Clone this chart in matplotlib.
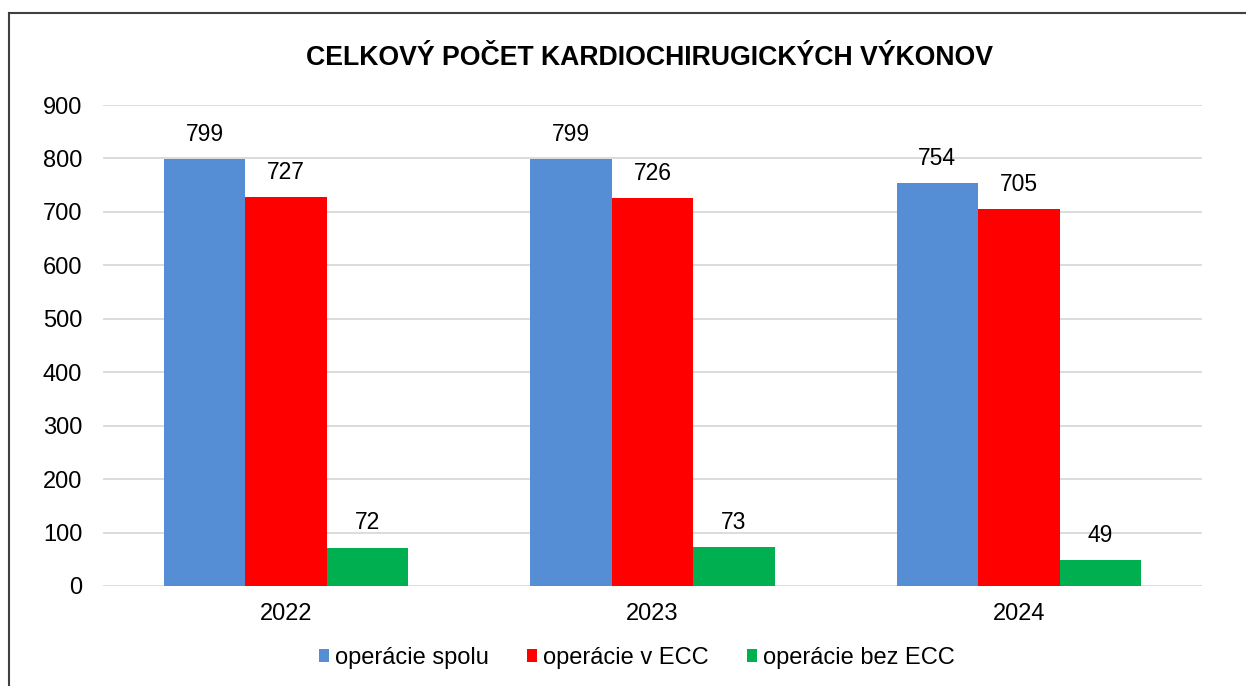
import matplotlib.pyplot as plt
import numpy as np
from matplotlib.lines import Line2D
from matplotlib.patches import Patch

plt.rcParams['font.family'] = ['Liberation Sans', 'DejaVu Sans']

years = ["2022", "2023", "2024"]
series_names = ["operácie spolu", "operácie v ECC", "operácie bez ECC"]
spolu = [799, 799, 754]
v_ecc = [727, 726, 705]
bez_ecc = [72, 73, 49]
colors = ["#558ED5", "#FF0000", "#00B050"]

fig = plt.figure(figsize=(12.46, 6.86), dpi=100)
ax = fig.add_axes([0.0827, 0.1458, 0.8820, 0.7011])

x = np.arange(len(years))
width = 0.2225
for i, (vals, name, col) in enumerate(zip([spolu, v_ecc, bez_ecc], series_names, colors)):
    bars = ax.bar(x + (i - 1) * width, vals, width, color=col, label=name, zorder=3)
    for b in bars:
        h = b.get_height()
        ax.annotate(f"{h:.0f}", xy=(b.get_x() + b.get_width() / 2, h),
                    xytext=(0, 9.5), textcoords="offset points",
                    ha="center", va="bottom", fontsize=16.5)

ax.set_xlim(-0.5, 2.5)
ax.set_ylim(0, 900)
ax.set_yticks(range(0, 901, 100))
ax.set_xticks(x)
ax.set_xticklabels(years)
ax.tick_params(axis="both", length=0, labelsize=17)
ax.tick_params(axis="y", pad=15)
ax.tick_params(axis="x", pad=12)
ax.yaxis.grid(True, color="#D9D9D9", linewidth=1.3, zorder=0)
for s in ax.spines.values():
    s.set_visible(False)

fig.text(0.5215, 0.9155, "CELKOVÝ POČET KARDIOCHIRUGICKÝCH VÝKONOV",
         ha="center", va="center", fontsize=19.2, fontweight="bold")

handles = [Patch(facecolor=c, edgecolor="none") for c in colors]
fig.legend(handles, series_names, loc="center", bbox_to_anchor=(0.511, 0.041),
           ncol=3, frameon=False, fontsize=17, handlelength=0.45,
           handleheight=0.5, handletextpad=0.25, columnspacing=1.6,
           borderpad=0, borderaxespad=0)

# outer chart border (only left and top visible in the crop)
fig.add_artist(Line2D([0.0072, 0.0072], [0, 0.981], color="#404040", linewidth=1.5))
fig.add_artist(Line2D([0.0072, 1.0], [0.981, 0.981], color="#404040", linewidth=1.5))

fig.savefig("out.png", dpi=100, facecolor="white")
